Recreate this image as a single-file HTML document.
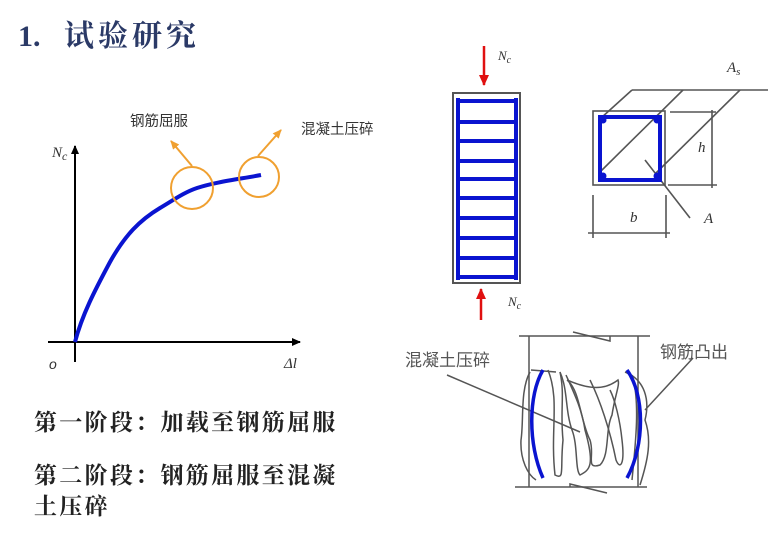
<!DOCTYPE html>
<html><head><meta charset="utf-8"><style>
body{margin:0;background:#fff;}
svg{display:block;font-family:"Liberation Sans","Noto Sans CJK SC",sans-serif;}
</style></head><body>
<svg width="780" height="537" viewBox="0 0 780 537" xmlns="http://www.w3.org/2000/svg">
<defs>
<marker id="ab" markerWidth="10" markerHeight="10" refX="8" refY="5" orient="auto" markerUnits="userSpaceOnUse"><path d="M0,1 L9,5 L0,9 z" fill="#000"/></marker>
<marker id="ao" markerWidth="10" markerHeight="10" refX="8" refY="5" orient="auto" markerUnits="userSpaceOnUse"><path d="M0,1 L9,5 L0,9 z" fill="#f0a030"/></marker>
<marker id="ar" markerWidth="12" markerHeight="12" refX="10" refY="6" orient="auto" markerUnits="userSpaceOnUse"><path d="M0,1 L11,6 L0,11 z" fill="#e01010"/></marker>
</defs>
<text x="18" y="46" font-size="30" fill="#2b3a67" font-family="Liberation Serif,'Noto Serif CJK SC',serif" font-weight="bold">1.</text>
<text x="64" y="46" font-size="30" fill="#2b3a67" font-family="'Noto Serif CJK SC',serif" font-weight="bold" letter-spacing="4">试验研究</text>
<!-- graph -->
<line x1="75" y1="362" x2="75" y2="146" stroke="#000" stroke-width="2" marker-end="url(#ab)"/>
<line x1="48" y1="342" x2="300" y2="342" stroke="#000" stroke-width="2" marker-end="url(#ab)"/>
<path d="M75,342 C82,315 95,290 110,262 C125,235 140,220 160,208 C175,199 185,192 197,188 C215,182 240,179 261,175" fill="none" stroke="#0a14d0" stroke-width="4"/>
<circle cx="192" cy="188" r="21" fill="none" stroke="#f0a030" stroke-width="2"/>
<circle cx="259" cy="177" r="20" fill="none" stroke="#f0a030" stroke-width="2"/>
<line x1="192" y1="166" x2="171" y2="141" stroke="#f0a030" stroke-width="2" marker-end="url(#ao)"/>
<line x1="258" y1="156" x2="281" y2="130" stroke="#f0a030" stroke-width="2" marker-end="url(#ao)"/>
<text x="130" y="126" font-size="14.5" fill="#333">钢筋屈服</text>
<text x="301" y="134" font-size="14.5" fill="#333">混凝土压碎</text>
<text x="52" y="157" font-size="15" font-style="italic" fill="#333" font-family="Liberation Serif,serif">N<tspan font-size="12" dy="3">c</tspan></text>
<text x="49" y="369" font-size="14" font-style="italic" fill="#333">o</text>
<text x="284" y="368" font-size="15" font-style="italic" fill="#333" font-family="Liberation Serif,serif">Δl</text>
<g font-size="23" fill="#222" font-family="'Noto Serif CJK SC',serif" font-weight="bold" letter-spacing="2.3">
<text x="34" y="430">第一阶段：加载至钢筋屈服</text>
<text x="34" y="483">第二阶段：钢筋屈服至混凝</text>
<text x="34" y="514">土压碎</text>
</g>
<!-- column -->
<rect x="453" y="93" width="67" height="190" fill="none" stroke="#555" stroke-width="2"/>
<g stroke="#0a14d0" stroke-width="4">
<line x1="458" y1="98" x2="458" y2="280"/><line x1="516" y1="98" x2="516" y2="280"/>
<line x1="458" y1="101" x2="516" y2="101"/><line x1="458" y1="122" x2="516" y2="122"/><line x1="458" y1="141" x2="516" y2="141"/><line x1="458" y1="161" x2="516" y2="161"/><line x1="458" y1="179" x2="516" y2="179"/><line x1="458" y1="198" x2="516" y2="198"/><line x1="458" y1="218" x2="516" y2="218"/><line x1="458" y1="238" x2="516" y2="238"/><line x1="458" y1="258" x2="516" y2="258"/><line x1="458" y1="277" x2="516" y2="277"/>
</g>
<line x1="484" y1="46" x2="484" y2="85" stroke="#e01010" stroke-width="2.5" marker-end="url(#ar)"/>
<line x1="481" y1="320" x2="481" y2="289" stroke="#e01010" stroke-width="2.5" marker-end="url(#ar)"/>
<text x="498" y="60" font-size="13" font-style="italic" fill="#333" font-family="Liberation Serif,serif">N<tspan font-size="10" dy="3">c</tspan></text>
<text x="508" y="306" font-size="13" font-style="italic" fill="#333" font-family="Liberation Serif,serif">N<tspan font-size="10" dy="3">c</tspan></text>
<!-- section -->
<g stroke="#555" stroke-width="1.6" fill="none">
<rect x="593" y="111" width="72" height="74"/>
<line x1="632" y1="90" x2="768" y2="90"/>
<line x1="632" y1="90" x2="601" y2="118"/>
<line x1="683" y1="90" x2="600" y2="172"/>
<line x1="740" y1="90" x2="656" y2="173"/>
<line x1="670" y1="112" x2="716" y2="112"/><line x1="668" y1="185" x2="717" y2="185"/><line x1="712" y1="110" x2="712" y2="188"/>
<line x1="593" y1="195" x2="593" y2="238"/><line x1="666" y1="195" x2="666" y2="238"/><line x1="588" y1="233" x2="670" y2="233"/>
<line x1="645" y1="160" x2="690" y2="218"/>
</g>
<rect x="600" y="117" width="60" height="63" fill="none" stroke="#0a14d0" stroke-width="4"/>
<g fill="#0a14d0"><circle cx="603" cy="120" r="3.5"/><circle cx="657" cy="120" r="3.5"/><circle cx="603" cy="176" r="3.5"/><circle cx="657" cy="176" r="3.5"/></g>
<text x="698" y="152" font-size="15" font-style="italic" fill="#333" font-family="Liberation Serif,serif">h</text>
<text x="630" y="222" font-size="15" font-style="italic" fill="#333" font-family="Liberation Serif,serif">b</text>
<text x="704" y="223" font-size="15" font-style="italic" fill="#333" font-family="Liberation Serif,serif">A</text>
<text x="727" y="72" font-size="15" font-style="italic" fill="#333" font-family="Liberation Serif,serif">A<tspan font-size="11" dy="3">s</tspan></text>
<!-- crushed column -->
<g stroke="#555" stroke-width="1.5" fill="none">
<line x1="519" y1="336" x2="650" y2="336"/><line x1="515" y1="487" x2="647" y2="487"/>
<line x1="529" y1="336" x2="529" y2="487"/><line x1="638" y1="336" x2="638" y2="487"/>
<path d="M573,332 L610,341 L610,336"/><path d="M570,487 L570,484 L607,493"/>
<path d="M530,372 C520,390 524,420 521,440 C520,460 528,475 536,480"/>
<path d="M531,370 L556,372 M548,370 C560,400 550,430 555,475 C565,480 560,470 563,440 C560,410 565,395 560,372"/>
<path d="M560,372 C568,390 565,410 572,430 C578,445 575,470 580,475 C590,470 595,465 585,430 C582,410 575,395 566,375"/>
<path d="M567,380 C580,390 580,420 590,440 C595,455 585,470 600,465 C610,455 605,430 612,415 C615,395 620,385 618,380 C605,390 590,390 567,380"/>
<path d="M590,380 C600,400 610,430 616,460 C620,470 625,465 622,440 C620,420 615,400 610,390"/>
<path d="M625,372 C645,380 650,400 645,420 C652,440 648,460 640,485"/>
<path d="M632,375 C640,400 636,440 632,480"/>
<line x1="447" y1="375" x2="580" y2="432"/>
<line x1="693" y1="358" x2="645" y2="410"/>
</g>
<path d="M543,370 C528,395 528,445 543,478" fill="none" stroke="#0a14d0" stroke-width="3.5"/>
<path d="M627,370 C645,395 645,445 627,478" fill="none" stroke="#0a14d0" stroke-width="3.5"/>
<text x="405" y="366" font-size="17" fill="#555">混凝土压碎</text>
<text x="660" y="358" font-size="17" fill="#555">钢筋凸出</text>
</svg>
</body></html>
